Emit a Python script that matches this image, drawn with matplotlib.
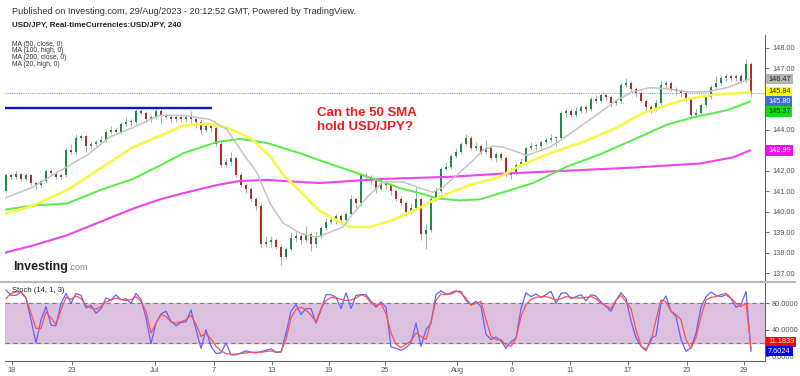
import numpy as np
import matplotlib.pyplot as plt
from matplotlib.lines import Line2D

plt.rcParams['font.family'] = ['Liberation Sans', 'DejaVu Sans']

# 4h candles, USD/JPY (open of each candle = previous close)
first_open = 141.0
close = [141.8, 141.7, 141.85, 141.6, 141.8, 141.4, 141.3, 141.5, 142.0, 141.9,
         141.7, 141.8, 143.0, 142.9, 143.6, 143.7, 143.2, 143.3, 143.4, 143.5,
         143.9, 144.0, 143.9, 144.3, 144.4, 144.4, 144.9, 144.8, 144.5, 144.6,
         144.9, 144.7, 144.6, 144.5, 144.6, 144.5, 144.6, 144.5, 144.4, 144.0,
         144.2, 144.1, 143.3, 142.3, 142.4, 142.6, 141.8, 141.3, 141.1, 140.6,
         140.3, 138.4, 138.5, 138.6, 138.3, 137.8, 138.2, 138.7, 138.8, 138.6,
         138.9, 138.4, 138.8, 139.2, 139.5, 139.6, 139.8, 139.6, 139.9, 140.6,
         140.4, 141.8, 141.7, 141.5, 141.1, 141.4, 141.3, 141.0, 140.6, 140.4,
         140.0, 140.2, 140.6, 138.9, 139.1, 140.6, 141.0, 142.1, 142.2, 142.7,
         142.9, 143.3, 143.6, 143.1, 143.2, 142.9, 143.1, 142.6, 142.8, 142.6,
         141.8, 141.9, 142.3, 142.4, 143.1, 143.2, 143.2, 143.4, 143.5, 143.6,
         143.6, 144.8, 144.9, 144.7, 144.9, 145.1, 145.0, 145.5, 145.4, 145.7,
         145.6, 145.3, 145.4, 146.2, 146.3, 146.0, 145.8, 145.4, 145.1, 145.0,
         145.3, 146.2, 146.3, 146.0, 145.9, 145.8, 145.5, 144.7, 144.8, 145.2,
         145.6, 146.1, 146.3, 146.5, 146.6, 146.5, 146.6, 146.4, 147.2, 145.8]
high = [141.9, 141.9, 142.0, 141.9, 141.9, 141.85, 141.5, 141.6, 142.1, 142.1,
        141.95, 141.9, 143.1, 143.3, 143.8, 143.8, 143.75, 143.4, 143.5, 143.7,
        144.0, 144.2, 144.1, 144.4, 144.6, 144.5, 145.0, 145.1, 144.9, 144.7,
        145.05, 145.0, 144.8, 144.7, 144.7, 144.7, 144.7, 144.9, 144.6, 144.5,
        144.3, 144.3, 144.2, 143.4, 142.6, 142.9, 142.7, 141.9, 141.4, 141.2,
        140.7, 140.4, 138.8, 138.8, 138.7, 138.4, 138.3, 139.0, 139.0, 138.9,
        139.3, 139.0, 139.0, 139.3, 139.7, 139.8, 139.9, 139.9, 140.0, 140.8,
        140.7, 141.9, 141.9, 141.8, 141.6, 141.6, 141.5, 141.4, 141.1, 140.7,
        140.5, 140.4, 141.2, 140.7, 139.4, 140.7, 141.2, 142.2, 142.4, 142.8,
        143.1, 143.4, 143.8, 143.7, 143.4, 143.3, 143.5, 143.2, 142.9, 142.9,
        142.7, 142.1, 142.4, 142.6, 143.2, 143.4, 143.3, 143.5, 143.6, 143.8,
        143.7, 144.9, 145.0, 145.0, 145.1, 145.2, 145.2, 145.6, 145.7, 145.8,
        145.8, 145.7, 145.5, 146.3, 146.5, 146.4, 146.1, 145.9, 145.5, 145.2,
        145.5, 146.4, 146.4, 146.4, 146.1, 146.0, 145.9, 145.6, 145.0, 145.3,
        145.7, 146.2, 146.6, 146.6, 146.7, 146.7, 146.7, 146.7, 147.45, 147.3]
low = [140.9, 141.6, 141.6, 141.5, 141.5, 141.3, 141.1, 141.2, 141.4, 141.8,
       141.6, 141.6, 141.7, 142.8, 142.8, 143.5, 142.9, 143.1, 143.2, 143.3,
       143.4, 143.8, 143.8, 143.8, 144.2, 144.2, 144.3, 144.7, 144.4, 144.4,
       144.5, 144.3, 144.5, 144.4, 144.4, 144.4, 144.4, 144.3, 144.1, 143.8,
       143.9, 143.9, 143.2, 142.2, 142.2, 142.3, 141.7, 141.2, 140.9, 140.5,
       140.1, 138.3, 138.3, 138.3, 138.2, 137.4, 137.7, 138.1, 138.5, 138.4,
       138.5, 138.1, 138.3, 138.7, 139.1, 139.4, 139.4, 139.4, 139.5, 139.8,
       140.2, 140.3, 141.6, 141.3, 140.9, 141.0, 141.1, 140.8, 140.5, 140.3,
       139.8, 139.9, 140.1, 138.6, 138.2, 139.0, 140.5, 140.9, 142.0, 142.1,
       142.6, 142.8, 143.2, 143.0, 143.0, 142.8, 142.8, 142.5, 142.4, 142.5,
       141.7, 141.6, 141.8, 142.2, 142.3, 143.0, 143.0, 143.1, 143.3, 143.4,
       143.2, 143.5, 144.6, 144.6, 144.6, 144.8, 144.8, 144.9, 145.3, 145.3,
       145.4, 145.1, 145.2, 145.3, 146.1, 145.9, 145.6, 145.3, 144.9, 144.8,
       144.9, 145.2, 146.0, 145.9, 145.7, 145.6, 145.4, 144.6, 144.6, 144.7,
       145.1, 145.5, 146.0, 146.2, 146.4, 146.4, 146.4, 146.3, 146.3, 145.6]

# moving averages, sampled along the candle index
ma20_x = [-0.2, 5.4, 10.8, 16.2, 20.8, 25.4, 28.8, 30.8, 35.4, 40.8, 44.2, 47.4,
          50.2, 52.8, 55.4, 58.8, 62.2, 64.8, 67.4, 69.4, 72.2, 75.4, 79.4, 82.8,
          85.4, 87.4, 90.2, 93.4, 95.4, 97.4, 99.4, 104.2, 108.8, 112.2, 117.4,
          122.2, 125.4, 128.8, 132.2, 136.2, 140.2, 144.2, 147.4, 148.8]
ma20_y = [140.67, 141.2, 142.0, 142.75, 143.65, 144.1, 144.5, 144.7, 144.7, 144.5,
          144.0, 142.85, 141.9, 140.4, 139.45, 138.95, 138.75, 139.0, 139.25, 139.9,
          140.7, 141.45, 141.45, 141.15, 140.95, 141.2, 141.8, 142.5, 143.0, 143.2,
          143.15, 142.75, 143.15, 143.7, 144.6, 145.45, 145.85, 146.05, 146.0,
          145.85, 145.85, 146.05, 146.35, 146.47]
ma50_x = [-0.2, 5.4, 12.2, 18.8, 25.4, 30.8, 35.4, 40.2, 44.2, 48.8, 52.8, 55.4,
          57.4, 62.2, 64.8, 68.8, 72.8, 77.4, 82.8, 87.4, 92.8, 98.8, 102.8, 108.8,
          115.4, 122.2, 126.8, 132.2, 136.2, 141.4, 148.8]
ma50_y = [139.88, 140.3, 141.05, 142.1, 143.15, 143.7, 144.2, 144.3, 144.1, 143.6,
          142.7, 141.8, 141.35, 140.15, 139.75, 139.25, 139.25, 139.6, 140.2, 140.8,
          141.3, 141.7, 142.25, 142.85, 143.4, 144.1, 144.75, 145.2, 145.5, 145.7,
          145.84]
ma100_x = [-0.2, 5.4, 12.2, 18.8, 25.4, 30.8, 35.4, 42.2, 46.8, 52.2, 58.8, 62.8,
           68.8, 74.2, 78.8, 82.8, 86.2, 90.8, 94.8, 98.8, 105.4, 112.2, 118.8,
           125.4, 132.2, 137.4, 144.2, 148.8]
ma100_y = [140.1, 140.3, 140.4, 141.05, 141.6, 142.25, 142.85, 143.4, 143.55, 143.35,
           142.85, 142.5, 142.0, 141.55, 141.15, 140.9, 140.65, 140.55, 140.6, 140.9,
           141.4, 142.2, 142.8, 143.5, 144.25, 144.6, 144.95, 145.37]
ma200_x = [-0.2, 5.4, 12.2, 18.8, 25.4, 30.8, 35.4, 42.2, 46.8, 52.2, 58.8, 62.8,
           75.4, 88.8, 98.8, 112.2, 125.4, 138.8, 145.4, 148.8]
ma200_y = [138.0, 138.35, 138.85, 139.5, 140.15, 140.6, 140.9, 141.3, 141.5, 141.55,
           141.45, 141.4, 141.6, 141.7, 141.85, 142.0, 142.15, 142.35, 142.65, 142.99]

# stochastic (14, 1, 3)
stoch_k = [100, 92, 92, 97, 88, 55, 20, 55, 75, 47, 46, 80, 95, 80, 95, 92, 73, 77,
           65, 72, 88, 85, 93, 85, 87, 80, 95, 86, 58, 19, 50, 64, 68, 53, 46, 51,
           52, 70, 40, 12, 40, 15, 4, 5, 20, 2, 2, 5, 8, 6, 5, 7, 9, 11, 6, 6, 35,
           68, 78, 63, 72, 72, 50, 70, 93, 93, 89, 72, 96, 72, 92, 93, 93, 83, 74,
           82, 74, 14, 12, 9, 13, 20, 50, 15, 40, 50, 93, 99, 94, 94, 98, 98, 84,
           78, 83, 75, 33, 25, 29, 23, 12, 22, 27, 72, 96, 90, 94, 89, 93, 98, 80,
           95, 96, 87, 90, 93, 84, 93, 91, 82, 75, 68, 84, 96, 87, 53, 28, 15, 8,
           27, 31, 80, 91, 68, 60, 25, 7, 13, 35, 74, 90, 97, 92, 90, 93, 87, 74,
           78, 98, 7.6024]
stoch_d = [87, 95, 97, 97, 88, 65, 42, 42, 67, 58, 48, 70, 89, 86, 91, 87, 77, 73,
           71, 75, 82, 85, 88, 86, 84, 86, 90, 83, 68, 35, 50, 63, 60, 52, 50, 52,
           55, 62, 48, 30, 34, 26, 15, 8, 4, 3, 3, 4, 5, 6, 6, 6, 7, 8, 6, 7, 25,
           58, 71, 74, 70, 62, 52, 72, 84, 89, 88, 86, 84, 85, 88, 93, 90, 80, 77,
           79, 65, 35, 18, 13, 18, 23, 35, 30, 25, 52, 85, 94, 93, 96, 99, 95, 88,
           77, 80, 83, 55, 30, 25, 25, 17, 15, 27, 60, 78, 86, 89, 90, 90, 88, 85,
           87, 90, 89, 88, 88, 89, 90, 87, 80, 76, 72, 85, 92, 82, 72, 40, 16, 10,
           22, 55, 85, 82, 68, 63, 55, 25, 12, 28, 60, 85, 89, 90, 93, 95, 88, 80,
           75, 80, 11.1839]

# hand drawn resistance line and last price
level_price = 145.07
level_span = [-0.2, 41.2]
last_price = 145.80

date_pos = [1.2, 13.2, 29.8, 41.6, 53.2, 64.6, 75.8, 90.2, 101.2, 112.8, 124.4, 136.2, 147.6]
date_lbl = ['18', '23', 'Jul', '7', '13', '19', '25', 'Aug', '6', '11', '17', '23', '29']
price_ticks = [137, 138, 139, 140, 141, 142, 144, 147, 148]

W, H = 800, 376
fig = plt.figure(figsize=(W / 100, H / 100), dpi=100)
fig.patch.set_facecolor('white')

def fx(px):
    return px / W

def fy(py):
    return 1 - py / H

ax = fig.add_axes([fx(5), fy(282), fx(760), (282 - 35) / H])
ax2 = fig.add_axes([fx(5), fy(361), fx(760), (361 - 283) / H])

# candles
idx = np.arange(len(close))
opens = np.array([first_open] + close[:-1])
closes = np.array(close)
up = closes >= opens
body_lo = np.minimum(opens, closes)
body_h = np.maximum(np.abs(closes - opens), 0.03)
ax.vlines(idx, low, high, color='#8fa89a', lw=0.6, zorder=2)
ax.bar(idx, body_h, bottom=body_lo, width=0.55,
       color=np.where(up, '#1f8a4c', '#a8322a'), zorder=3)

ax.plot(ma200_x, ma200_y, color='#ee44ee', lw=1.5, zorder=4)
ax.plot(ma100_x, ma100_y, color='#55ee44', lw=1.4, zorder=4)
ax.plot(ma50_x, ma50_y, color='#f7f74a', lw=1.9, zorder=4)
ax.plot(ma20_x, ma20_y, color='#c4c4c4', lw=1.1, zorder=4)

ax.hlines(level_price, level_span[0], level_span[1], color='#0a14d8', lw=1.7, zorder=5)
ax.axhline(last_price, color='#8fa0dd', lw=0.8, ls=(0, (1, 1)), zorder=1)

ax.set_xlim(-0.2, 151.8)
ax.set_ylim(136.57, 148.62)
for s in ['top', 'left', 'bottom']:
    ax.spines[s].set_visible(False)
ax.spines['right'].set_color('#666666')
ax.spines['right'].set_linewidth(0.8)
ax.set_xticks([])
ax.yaxis.tick_right()
ax.set_yticks(price_ticks)
ax.set_yticklabels(['%.2f' % v for v in price_ticks])
ax.tick_params(axis='y', length=3, width=0.6, colors='#555555', labelsize=5.3, pad=2)

# price tags on the axis (shifted apart where they would collide)
tags = [(ma20_y[-1], '#b4b4b4', '#222222', 0),
        (ma50_y[-1], '#ffff00', '#222222', 0),
        (last_price, '#3f6fd6', 'white', -6.5),
        (ma100_y[-1], '#11dd11', '#222222', -7),
        (ma200_y[-1], '#ee11ee', 'white', 0)]
for val, fc, tc, dy in tags:
    ax.annotate('%.2f' % val, xy=(1, val), xycoords=ax.get_yaxis_transform(),
                xytext=(2.2, dy), textcoords='offset points', va='center', ha='left',
                fontsize=5.3, color=tc, annotation_clip=False, zorder=6,
                bbox=dict(boxstyle='square,pad=0.25', fc=fc, ec='none'))

# stochastic panel
ax2.axhspan(20, 80, color='#dcc1df', zorder=0)
ax2.axhline(80, color='#8a768a', lw=0.8, ls=(0, (4, 3)), zorder=1)
ax2.axhline(20, color='#8a768a', lw=0.8, ls=(0, (4, 3)), zorder=1)
ax2.plot(idx, stoch_k, color='#6262ff', lw=0.9, zorder=3)
ax2.plot(idx, stoch_d, color='#ff4f4f', lw=0.9, zorder=3)
ax2.set_xlim(-0.2, 151.8)
ax2.set_ylim(-7.3, 110.7)
ax2.spines['top'].set_visible(False)
ax2.spines['left'].set_visible(False)
ax2.spines['right'].set_color('#666666')
ax2.spines['bottom'].set_color('#666666')
ax2.spines['right'].set_linewidth(0.8)
ax2.spines['bottom'].set_linewidth(0.8)
ax2.yaxis.tick_right()
ax2.set_yticks([0, 40, 80])
ax2.set_yticklabels(['%.4f' % v for v in [0, 40, 80]])
ax2.tick_params(axis='y', length=3, width=0.6, colors='#555555', labelsize=5.3, pad=2)
ax2.set_xticks(date_pos)
ax2.set_xticklabels(date_lbl)
ax2.tick_params(axis='x', length=3, width=0.6, colors='#555555', labelsize=5.3, pad=1.5)

for val, fc, dy in [(stoch_d[-1], '#ff0000', 4.9), (stoch_k[-1], '#0000ff', 0)]:
    ax2.annotate('%.4f' % val, xy=(1, val), xycoords=ax2.get_yaxis_transform(),
                 xytext=(2.2, dy), textcoords='offset points', va='center', ha='left',
                 fontsize=5.3, color='white', annotation_clip=False, zorder=6,
                 bbox=dict(boxstyle='square,pad=0.25', fc=fc, ec='none'))

ax2.text(0.009, 0.9, 'Stoch (14, 1, 3)', transform=ax2.transAxes, fontsize=5.5,
         color='#222222', va='center')

# panel separator
fig.add_artist(Line2D([0, fx(795)], [fy(282), fy(282)], color='#b5b5b5', lw=1.4))

# header texts
fig.text(fx(12), fy(12), 'Published on Investing.com, 29/Aug/2023 - 20:12:52 GMT, Powered by TradingView.',
         fontsize=6.6, color='#333333', va='center')
fig.text(fx(12), fy(25), 'USD/JPY, Real-timeCurrencies:USD/JPY, 240', fontsize=5.8,
         fontweight='bold', color='#222222', va='center')
for k, s in enumerate(['MA (50, close, 0)', 'MA (100, high, 0)', 'MA (200, close, 0)', 'MA (20, high, 0)']):
    fig.text(fx(12), fy(44 + 6.8 * k), s, fontsize=4.9, color='#333333', va='center')

fig.text(fx(13), fy(267), 'Investing', fontsize=9, fontweight='bold', color='#222222', va='center')
fig.text(fx(68), fy(268), '.com', fontsize=6.5, color='#888888', va='center')

fig.text(fx(317), fy(113), 'Can the 50 SMA', fontsize=9.5, fontweight='bold', color='#ee1c1c', va='center')
fig.text(fx(317), fy(127), 'hold USD/JPY?', fontsize=9.5, fontweight='bold', color='#ee1c1c', va='center')

fig.savefig('out.png', dpi=100)
